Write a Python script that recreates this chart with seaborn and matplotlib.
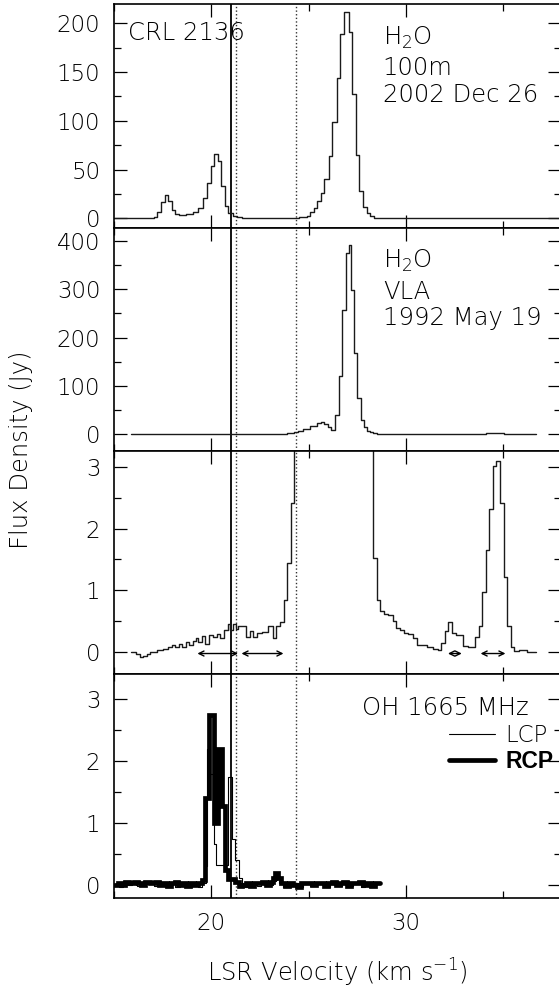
import matplotlib
matplotlib.use("Agg")
import numpy as np
import pandas as pd
import matplotlib.pyplot as plt
import seaborn as sns
from matplotlib.ticker import MultipleLocator
from matplotlib.lines import Line2D
from matplotlib import font_manager as fm

# ---------------- data ----------------
# H2O, 100 m telescope, 2002 Dec 26 : step edges (km/s) and flux (Jy)
h2o_100m_vel = [15.0, 16.86, 17.04, 17.22, 17.40, 17.59, 17.77, 17.95, 18.14, 18.32,
                18.68, 19.05, 19.32, 19.56, 19.78, 19.96, 20.11, 20.33, 20.51, 20.70,
                20.88, 21.10, 21.33, 21.60, 22.00, 24.20, 24.53, 24.90, 25.08, 25.27,
                25.45, 25.63, 25.81, 26.03, 26.21, 26.45, 26.64, 26.82, 27.06, 27.24,
                27.42, 27.60, 27.82, 28.01, 28.19, 28.37, 28.74, 29.30, 38.0]
h2o_100m_flux = [0.0, 0.5, 1.5, 6.5, 17, 23.5, 17.5, 8, 4, 3,
                 4, 6, 11, 21, 36, 54, 66, 59, 33, 13,
                 5.5, 2.4, 1.2, 0.5, 0.2, 0.5, 1.0, 2.7, 6, 11,
                 17.5, 26, 40, 64, 99, 143.5, 189, 212, 191, 127,
                 65, 28, 12, 5, 2, 0.7, 0.3, 0.0]

# H2O, VLA, 1992 May 19 (shown twice: full scale and zoomed)
h2o_vla_vel = [15.85, 16.13, 16.31, 16.49, 16.67, 16.86, 17.04, 17.22, 17.50, 17.77,
               17.95, 18.14, 18.32, 18.50, 18.69, 18.87, 19.05, 19.20, 19.33, 19.51,
               19.69, 19.87, 20.09, 20.28, 20.46, 20.66, 20.84, 20.97, 21.10, 21.25,
               21.39, 21.61, 21.79, 21.98, 22.16, 22.34, 22.62, 22.93, 23.16, 23.35,
               23.53, 23.75, 23.91, 24.08, 24.26, 24.45, 24.72, 25.08, 25.45, 25.63,
               25.81, 26.00, 26.18, 26.36, 26.55, 26.73, 26.91, 27.06, 27.19, 27.33,
               27.52, 27.70, 27.86, 28.01, 28.19, 28.34, 28.52, 28.70, 28.89, 29.11,
               29.35, 29.53, 29.71, 29.93, 30.11, 30.38, 30.57, 30.84, 31.12, 31.39,
               31.66, 31.84, 32.02, 32.20, 32.39, 32.57, 32.94, 33.21, 33.58, 33.76,
               33.95, 34.13, 34.31, 34.49, 34.67, 34.86, 35.04, 35.22, 35.40, 35.59,
               35.86, 36.23, 36.69]
h2o_vla_flux = [0.0, -0.03, -0.07, -0.06, -0.03, 0.0, 0.01, 0.03, 0.05, 0.08,
                0.12, 0.08, 0.14, 0.09, 0.17, 0.12, 0.18, 0.23, 0.17, 0.26,
                0.13, 0.28, 0.25, 0.30, 0.23, 0.36, 0.45, 0.36, 0.45, 0.37,
                0.42, 0.43, 0.24, 0.35, 0.25, 0.31, 0.32, 0.42, 0.23, 0.43,
                0.49, 0.85, 1.45, 2.42, 4.5, 7.0, 10.0, 16.6, 22.0, 25.0,
                21.0, 15.0, 9.0, 39.0, 120.0, 257.0, 376.0, 392.0, 298.0, 169.0,
                74.0, 29.0, 14.0, 7.0, 3.5, 1.52, 0.85, 0.66, 0.62, 0.60,
                0.50, 0.39, 0.36, 0.31, 0.30, 0.23, 0.12, 0.11, 0.08, 0.06,
                0.04, 0.15, 0.35, 0.49, 0.31, 0.28, 0.10, 0.08, 0.25, 0.42,
                0.98, 1.65, 2.32, 3.01, 3.09, 2.42, 1.21, 0.43, 0.09, 0.02,
                0.03, 0.0]

# OH 1665 MHz, left and right circular polarisation
lcp_vel = [15.0, 15.25, 15.45, 15.7, 15.9, 16.15, 16.35, 16.6, 16.8, 17.05,
           17.25, 17.5, 17.7, 17.95, 18.15, 18.4, 18.6, 18.85, 19.05, 19.3,
           19.5, 19.7, 19.78, 19.91, 20.12, 20.25, 20.87, 21.06, 21.24, 21.40,
           21.55, 21.75, 21.95, 22.15, 22.35, 22.55, 22.75, 22.95, 23.15, 23.35,
           23.5, 23.7, 23.9, 24.1, 24.3, 24.5, 24.7, 24.9, 25.1, 25.3,
           25.5, 25.7, 25.9, 26.1, 26.3, 26.5, 26.7, 26.9, 27.1, 27.3,
           27.5, 27.7, 27.9, 28.1, 28.3, 28.5, 28.7]
lcp_flux = [0.02, -0.03, 0.03, 0.0, 0.04, -0.02, 0.03, 0.01, 0.04, -0.02,
            0.02, 0.04, 0.0, 0.03, -0.03, 0.02, 0.04, -0.02, 0.03, -0.03,
            0.04, 0.3, 2.2, 1.8, 0.67, 0.33, 1.75, 0.75, 0.4, 0.12,
            0.03, -0.03, 0.02, 0.04, -0.02, 0.03, 0.04, 0.0, 0.07, 0.12,
            0.03, -0.03, 0.03, 0.0, 0.04, -0.03, 0.02, 0.04, -0.02, 0.03,
            0.01, 0.04, -0.03, 0.02, 0.04, -0.02, 0.03, 0.05, -0.02, 0.02,
            0.04, -0.03, 0.03, 0.05, -0.02, 0.03]
rcp_vel = [15.0, 15.2, 15.4, 15.55, 15.75, 16.0, 16.2, 16.4, 16.6, 16.85,
           17.1, 17.3, 17.5, 17.7, 17.9, 18.1, 18.3, 18.5, 18.7, 18.9,
           19.1, 19.3, 19.5, 19.69, 19.87, 20.15, 20.33, 20.55, 20.70, 20.88,
           21.24, 21.43, 21.6, 21.8, 22.0, 22.2, 22.4, 22.6, 22.8, 23.0,
           23.15, 23.28, 23.45, 23.6, 23.8, 24.0, 24.2, 24.4, 24.6, 24.8,
           25.0, 25.2, 25.4, 25.6, 25.8, 26.0, 26.2, 26.4, 26.6, 26.8,
           27.0, 27.2, 27.4, 27.6, 27.8, 28.0, 28.2, 28.4, 28.7]
rcp_flux = [0.0, 0.04, 0.0, 0.05, 0.03, 0.05, 0.04, 0.0, 0.05, 0.04,
            0.05, 0.0, 0.03, -0.02, 0.04, 0.05, 0.0, 0.03, -0.02, 0.04,
            0.0, 0.04, 0.08, 1.4, 2.75, 1.0, 2.2, 1.27, 0.25, 0.1,
            0.05, -0.02, 0.0, 0.03, -0.02, 0.04, 0.03, 0.05, 0.0, 0.05,
            0.12, 0.2, 0.12, 0.04, -0.02, 0.03, 0.0, -0.03, 0.04, 0.03,
            0.04, 0.0, 0.03, 0.04, -0.02, 0.04, 0.05, 0.0, 0.03, 0.05,
            -0.02, 0.04, 0.03, 0.05, 0.0, 0.04, -0.02, 0.03]

# reference velocities
solid_vel = [21.0]
dotted_vel = [21.25, 24.37]

# velocity ranges marked with double arrows in the zoomed VLA panel
arrow_start = [19.28, 21.55, 32.18, 33.86]
arrow_end = [21.37, 23.71, 32.89, 35.14]
arrow_level = -0.02

panel_ylims = [(-10.0, 219.5), (-35.0, 427.0), (-0.356, 3.254), (-0.215, 3.404)]
panel_major = [50, 100, 1, 1]
panel_minor = [25, 50, 0.5, 0.5]


# ---------------- style ----------------
def pick_light_font():
    prefs = ["DejaVu Sans", "Open Sans", "Lato", "Roboto", "Noto Sans", "Inter"]
    for fam in prefs:
        for f in fm.fontManager.ttflist:
            w = f.weight
            if isinstance(w, str):
                w = fm.weight_dict.get(w, 400)
            if f.name == fam and f.style == "normal" and 200 <= w <= 300:
                return fam, w
    return "DejaVu Sans", 400


sns.set_theme(style="ticks")
FAM, WT = pick_light_font()
FS = 16.5      # tick labels
FT = 17.5      # annotations and axis titles
plt.rcParams.update({
    "font.family": [FAM, "DejaVu Sans"],
    "font.weight": WT,
    "mathtext.default": "regular",
    "axes.linewidth": 1.2,
    "axes.edgecolor": "black",
    "xtick.color": "black",
    "ytick.color": "black",
    "text.color": "black",
})

fig = plt.figure(figsize=(5.59, 9.9), dpi=100)
W, H = 559.0, 990.0
left = 114.3 / W
width = (561.0 - 114.3) / W
tops = [4.3, 228.0, 451.0, 674.3]
bots = [228.0, 451.0, 674.3, 898.3]
axes = [fig.add_axes([left, 1 - b / H, width, (b - t) / H]) for t, b in zip(tops, bots)]


def draw_steps(ax, edges, flux, **kw):
    df = pd.DataFrame({"v": edges, "f": list(flux) + [flux[-1]]})
    sns.lineplot(data=df, x="v", y="f", ax=ax, drawstyle="steps-post",
                 estimator=None, sort=False, **kw)


line_col = "#1a1a1a"
draw_steps(axes[0], h2o_100m_vel, h2o_100m_flux, color=line_col, lw=1.0)
draw_steps(axes[1], h2o_vla_vel, h2o_vla_flux, color=line_col, lw=1.0)
draw_steps(axes[2], h2o_vla_vel, h2o_vla_flux, color=line_col, lw=1.0)
draw_steps(axes[3], lcp_vel, lcp_flux, color="black", lw=0.8)
draw_steps(axes[3], rcp_vel, rcp_flux, color="black", lw=3.4,
           solid_joinstyle="miter")

for i, ax in enumerate(axes):
    ax.set_xlim(15, 38)
    ax.set_ylim(*panel_ylims[i])
    ax.xaxis.set_major_locator(MultipleLocator(10))
    ax.xaxis.set_minor_locator(MultipleLocator(5))
    ax.yaxis.set_major_locator(MultipleLocator(panel_major[i]))
    ax.yaxis.set_minor_locator(MultipleLocator(panel_minor[i]))
    ax.tick_params(which="both", direction="in", top=True, right=True,
                   width=0.9, labelsize=FS, pad=10)
    ax.tick_params(which="major", length=9.4)
    ax.tick_params(which="minor", length=5.0)
    ax.set_xlabel("")
    ax.set_ylabel("")
    if i < 3:
        ax.tick_params(labelbottom=False)
    for v in solid_vel:
        ax.axvline(v, color="black", lw=1.3, zorder=1)
    for v in dotted_vel:
        ax.axvline(v, color="#333333", lw=1.0, ls=(0, (1, 1.6)), zorder=1)
    for s in ax.spines.values():
        s.set_linewidth(1.2)

# arrows in VLA zoom panel
for a, b in zip(arrow_start, arrow_end):
    axes[2].annotate("", xy=(b, arrow_level), xytext=(a, arrow_level),
                     arrowprops=dict(arrowstyle="<->", lw=1.0, color="black",
                                     mutation_scale=9, shrinkA=0, shrinkB=0))

# panel annotations
t0 = axes[0].transAxes
axes[0].text(0.031, 0.872, "CRL 2136", transform=t0, fontsize=FT, va="center", ha="left")
axes[0].text(0.601, 0.818, "H$_2$O", transform=t0, fontsize=FT, va="baseline", ha="left")
axes[0].text(0.601, 0.684, "100m", transform=t0, fontsize=FT, va="baseline", ha="left")
axes[0].text(0.601, 0.565, "2002 Dec 26", transform=t0, fontsize=FT, va="baseline", ha="left")

t1 = axes[1].transAxes
axes[1].text(0.601, 0.822, "H$_2$O", transform=t1, fontsize=FT, va="baseline", ha="left")
axes[1].text(0.601, 0.680, "VLA", transform=t1, fontsize=FT, va="baseline", ha="left")
axes[1].text(0.601, 0.565, "1992 May 19", transform=t1, fontsize=FT, va="baseline", ha="left")

t3 = axes[3].transAxes
axes[3].text(0.555, 0.817, "OH 1665 MHz", transform=t3, fontsize=FT, va="baseline", ha="left")

handles = [Line2D([], [], color="black", lw=0.8), Line2D([], [], color="black", lw=3.4)]
leg = axes[3].legend(handles, ["LCP", "RCP"], loc="upper left",
                     bbox_to_anchor=(0.749, 0.78), frameon=False, fontsize=FS,
                     handlelength=2.0, handletextpad=0.45, labelspacing=0.14,
                     borderpad=0, borderaxespad=0)
leg.get_texts()[1].set_fontweight("bold")
leg.get_texts()[1].set_fontfamily("Liberation Sans")

fig.text(21.5 / W, 1 - 450 / H, "Flux Density (Jy)", rotation=90, fontsize=FT,
         ha="center", va="center")
fig.text(337.5 / W, 1 - 982 / H, "LSR Velocity (km s$^{-1}$)", fontsize=FT,
         ha="center", va="baseline")

fig.savefig("out.png", dpi=100)
